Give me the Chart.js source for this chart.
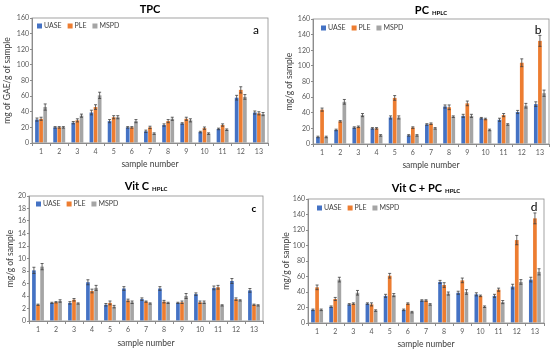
<!DOCTYPE html>
<html>
<head>
<meta charset="utf-8">
<script src="https://cdn.jsdelivr.net/npm/chart.js@4.4.0/dist/chart.umd.min.js"></script>
<style>
    body { margin: 0; background: #fff; }
    .panel { position: absolute; width: 275px; height: 176px; }
</style>
</head>
<body>
<div class="panel" style="left:0;top:0"><canvas id="chart-a" width="275" height="176"></canvas></div>
<div class="panel" style="left:275px;top:0"><canvas id="chart-b" width="275" height="176"></canvas></div>
<div class="panel" style="left:0;top:176px"><canvas id="chart-c" width="275" height="176"></canvas></div>
<div class="panel" style="left:275px;top:176px"><canvas id="chart-d" width="275" height="176"></canvas></div>
<script>
(function () {
    'use strict';

    var sampleLabels = ['1', '2', '3', '4', '5', '6', '7', '8', '9', '10', '11', '12', '13'];
    var seriesNames  = ['UASE', 'PLE', 'MSPD'];

    // a - TPC
    var tpcUASE    = [30, 20, 26, 39, 28, 20, 15, 23, 25, 14, 18, 58, 39];
    var tpcPLE     = [31, 20, 29, 46, 33, 20, 20, 28, 31, 19, 23, 68, 38];
    var tpcMSPD    = [46, 20, 35, 61, 33, 28, 12, 31, 29, 12, 17, 59, 37];
    var tpcErrUASE = [2, 1, 1.5, 3, 2, 1, 1.5, 1.5, 1, 1, 1, 3, 2];
    var tpcErrPLE  = [2, 1, 2, 3, 2, 1, 1.5, 2, 2, 1.5, 1.5, 4, 2];
    var tpcErrMSPD = [4, 1, 2, 4, 2, 2, 1, 2, 2, 1, 1, 3, 2];

    // b - PC HPLC
    var pcUASE    = [9, 18, 21, 20, 34, 11, 25, 48, 36, 33, 31, 41, 51];
    var pcPLE     = [44, 29, 22, 20, 59, 21, 26, 47, 52, 32, 37, 104, 132];
    var pcMSPD    = [9, 54, 37, 11, 34, 11, 20, 35, 36, 18, 25, 49, 65];
    var pcErrUASE = [1, 1, 1, 1, 2, 1, 1, 2, 2, 1, 2, 2, 3];
    var pcErrPLE  = [2, 1, 1, 1, 3, 1, 1, 3, 3, 1, 2, 5, 7];
    var pcErrMSPD = [1, 3, 2, 1, 2, 1, 1, 1, 2, 1, 1, 3, 4];

    // c - Vit C HPLC
    var vcUASE    = [8.1, 2.9, 2.9, 6.2, 2.6, 5.2, 3.5, 5.2, 2.9, 4.3, 5.3, 6.4, 4.9];
    var vcPLE     = [2.6, 3.0, 3.4, 4.8, 2.9, 3.3, 3.1, 3.1, 3.0, 3.0, 5.4, 3.5, 2.6];
    var vcMSPD    = [8.7, 3.2, 2.8, 5.3, 2.3, 3.0, 2.8, 2.9, 4.0, 3.0, 2.5, 3.3, 2.5];
    var vcErrUASE = [0.5, 0.1, 0.2, 0.4, 0.2, 0.3, 0.2, 0.3, 0.1, 0.2, 0.3, 0.4, 0.3];
    var vcErrPLE  = [0.1, 0.1, 0.2, 0.3, 0.3, 0.2, 0.1, 0.2, 0.2, 0.2, 0.3, 0.2, 0.1];
    var vcErrMSPD = [0.5, 0.2, 0.1, 0.4, 0.2, 0.2, 0.1, 0.1, 0.4, 0.2, 0.1, 0.1, 0.1];

    // d - Vit C + PC HPLC
    var sumUASE    = [17, 21, 24, 25, 35, 17, 29, 53, 39, 37, 35, 47, 56];
    var sumPLE     = [46, 31, 25, 24, 61, 25, 29, 49, 55, 35, 43, 107, 135];
    var sumMSPD    = [17, 56, 39, 16, 36, 14, 24, 38, 40, 21, 27, 53, 66];
    var sumErrUASE = [1, 1, 1, 1, 2, 1, 1, 2, 2, 2, 2, 3, 3];
    var sumErrPLE  = [3, 2, 1, 2, 3, 1, 1, 3, 3, 1, 2, 6, 7];
    var sumErrMSPD = [1, 3, 3, 1, 2, 1, 1, 2, 3, 1, 2, 3, 4];

    var colors = ['#4472C4', '#ED7D31', '#A5A5A5'];
    var FONT = 'Lato, "Open Sans", sans-serif';

    var panels = [
        { id: 'chart-a', title: 'TPC', sub: '', letter: 'a', letterFont: '12px ' + FONT,
          yTitle: 'mg of GAE/g of sample', yMax: 160, yStep: 20,
          values: [tpcUASE, tpcPLE, tpcMSPD], errors: [tpcErrUASE, tpcErrPLE, tpcErrMSPD],
          area: { left: 32, top: 18, right: 268, bottom: 143 },
          titleY: 9, legend: { x: 37, y: 26 }, letterPos: { x: 256, y: 30 }, yTitleX: 7, xTitleY: 164 },
        { id: 'chart-b', title: 'PC', sub: 'HPLC', letter: 'b', letterFont: '12px ' + FONT,
          yTitle: 'mg/g of sample', yMax: 160, yStep: 20,
          values: [pcUASE, pcPLE, pcMSPD], errors: [pcErrUASE, pcErrPLE, pcErrMSPD],
          area: { left: 38, top: 19, right: 274, bottom: 144 },
          titleY: 10, legend: { x: 46, y: 28 }, letterPos: { x: 263, y: 30 }, yTitleX: 14, xTitleY: 165 },
        { id: 'chart-c', title: 'Vit C', sub: 'HPLC', letter: 'c', letterFont: 'bold 10px ' + FONT,
          yTitle: 'mg/g of sample', yMax: 20, yStep: 2,
          values: [vcUASE, vcPLE, vcMSPD], errors: [vcErrUASE, vcErrPLE, vcErrMSPD],
          area: { left: 29, top: 20, right: 263, bottom: 145 },
          titleY: 10, legend: { x: 36, y: 28 }, letterPos: { x: 254, y: 33 }, yTitleX: 10, xTitleY: 167 },
        { id: 'chart-d', title: 'Vit C + PC', sub: 'HPLC', letter: 'd', letterFont: '12px ' + FONT,
          yTitle: 'mg/g of sample', yMax: 160, yStep: 20,
          values: [sumUASE, sumPLE, sumMSPD], errors: [sumErrUASE, sumErrPLE, sumErrMSPD],
          area: { left: 33, top: 23, right: 269, bottom: 147 },
          titleY: 12, legend: { x: 42, y: 32 }, letterPos: { x: 259, y: 31 }, yTitleX: 11, xTitleY: 168 }
    ];

    var decorPlugin = {
        id: 'decor',
        afterDatasetsDraw: function (chart, args, opts) {
            var ctx = chart.ctx;
            var y = chart.scales.y;
            ctx.save();
            ctx.strokeStyle = '#404040';
            ctx.lineWidth = 0.8;
            chart.data.datasets.forEach(function (ds, i) {
                var meta = chart.getDatasetMeta(i);
                meta.data.forEach(function (bar, j) {
                    var v = ds.data[j];
                    var e = opts.errors[i][j];
                    var top = y.getPixelForValue(v + e);
                    var bot = y.getPixelForValue(v - e);
                    ctx.beginPath();
                    ctx.moveTo(bar.x, top); ctx.lineTo(bar.x, bot);
                    ctx.moveTo(bar.x - 1.5, top); ctx.lineTo(bar.x + 1.5, top);
                    ctx.moveTo(bar.x - 1.5, bot); ctx.lineTo(bar.x + 1.5, bot);
                    ctx.stroke();
                });
            });
            ctx.restore();
        },
        afterDraw: function (chart, args, opts) {
            var ctx = chart.ctx;
            var a = chart.chartArea;
            ctx.save();
            // plot box
            ctx.strokeStyle = '#8c8c8c';
            ctx.lineWidth = 0.8;
            ctx.strokeRect(a.left, a.top, a.right - a.left, a.bottom - a.top);

            // title with small "HPLC"
            var mainFont = 'bold 11px ' + FONT;
            var subFont = 'bold 6px ' + FONT;
            ctx.font = mainFont;
            var wMain = ctx.measureText(opts.title).width;
            ctx.font = subFont;
            var wSub = opts.sub ? ctx.measureText(opts.sub).width + 3 : 0;
            var cx = (a.left + a.right) / 2;
            var x0 = cx - (wMain + wSub) / 2;
            ctx.fillStyle = '#000';
            ctx.textBaseline = 'alphabetic';
            ctx.textAlign = 'left';
            ctx.font = mainFont;
            ctx.fillText(opts.title, x0, opts.titleY + 4);
            if (opts.sub) {
                ctx.font = subFont;
                ctx.fillText(opts.sub, x0 + wMain + 3, opts.titleY + 5);
            }

            // legend
            ctx.font = '7px ' + FONT;
            ctx.textBaseline = 'middle';
            var lx = opts.legend.x;
            chart.data.datasets.forEach(function (ds) {
                ctx.fillStyle = ds.backgroundColor;
                ctx.fillRect(lx, opts.legend.y - 2.5, 5, 5);
                ctx.fillStyle = '#404040';
                ctx.fillText(ds.label, lx + 7, opts.legend.y);
                lx += 7 + ctx.measureText(ds.label).width + 6;
            });

            // panel letter
            ctx.font = opts.letterFont;
            ctx.fillStyle = '#000';
            ctx.textAlign = 'center';
            ctx.fillText(opts.letter, opts.letterPos.x, opts.letterPos.y);
            ctx.restore();
        }
    };

    function makeChart(p) {
        var canvas = document.getElementById(p.id);
        var W = canvas.width, H = canvas.height;
        var tickFont = { family: FONT, size: 7 };
        var titleFont = { family: FONT, size: 8.5 };
        return new Chart(canvas, {
            type: 'bar',
            data: {
                labels: sampleLabels,
                datasets: seriesNames.map(function (name, i) {
                    return {
                        label: name,
                        data: p.values[i],
                        backgroundColor: colors[i],
                        categoryPercentage: 0.68,
                        barPercentage: 0.9
                    };
                })
            },
            options: {
                responsive: false,
                animation: false,
                devicePixelRatio: 1,
                layout: { padding: { left: 0, top: p.area.top, right: W - p.area.right, bottom: 0 } },
                plugins: {
                    legend: { display: false },
                    tooltip: { enabled: false },
                    decor: {
                        title: p.title, sub: p.sub, titleY: p.titleY,
                        letter: p.letter, letterFont: p.letterFont, letterPos: p.letterPos,
                        legend: p.legend, errors: p.errors
                    }
                },
                scales: {
                    x: {
                        grid: { display: true, drawOnChartArea: false, tickLength: 3, color: '#8c8c8c', offset: true },
                        border: { color: '#8c8c8c' },
                        ticks: { font: tickFont, color: '#595959', padding: 2, maxRotation: 0 },
                        title: { display: true, text: 'sample number', font: titleFont, color: '#404040',
                                 padding: { top: 0, bottom: H - p.xTitleY - 5 } },
                        afterFit: function (s) { s.height = H - p.area.bottom; }
                    },
                    y: {
                        min: 0, max: p.yMax,
                        grid: { display: true, drawOnChartArea: false, tickLength: 2, color: '#8c8c8c' },
                        border: { color: '#8c8c8c' },
                        ticks: { stepSize: p.yStep, font: tickFont, color: '#595959', padding: 1 },
                        title: { display: true, text: p.yTitle, font: titleFont, color: '#404040',
                                 padding: { top: p.yTitleX - 5, bottom: 0 } },
                        afterFit: function (s) { s.width = p.area.left; }
                    }
                }
            },
            plugins: [decorPlugin]
        });
    }

    function init() {
        if (typeof Chart === 'undefined') {
            console.warn('Chart.js not loaded.');
            return;
        }
        panels.forEach(makeChart);
    }

    if (document.readyState === 'loading') {
        document.addEventListener('DOMContentLoaded', init);
    } else {
        init();
    }
})();
</script>
</body>
</html>
